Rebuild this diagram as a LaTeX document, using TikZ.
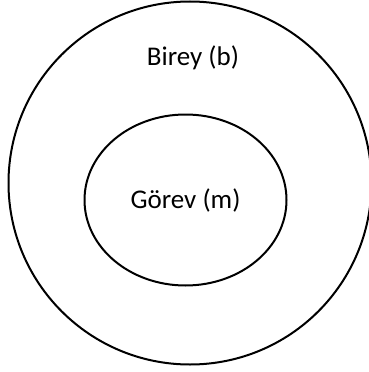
\documentclass[tikz,border=0pt]{standalone}
\usepackage{fontspec}
\setmainfont{Carlito}
\usepackage{tikz}
\usetikzlibrary{positioning, shapes.geometric}

\begin{document}
\begin{tikzpicture}[
    x=1pt, y=-1pt,
    ring/.style={circle, draw=black, line width=2pt,
                 minimum size=363pt, inner sep=0pt},
    core/.style={ellipse, draw=black, line width=2pt,
                 minimum width=202pt, minimum height=171pt, inner sep=0pt,
                 font=\fontsize{27}{31}\selectfont},
    lbl/.style={font=\fontsize{27}{31}\selectfont, inner sep=0pt}
]
    \useasboundingbox (0,0) rectangle (369,372);

    % Outer and inner regions
    \node[ring] (birey) at (190,183) {};
    \node[core] (gorev) at (185.5,200) {Görev (m)};

    \node[lbl] (bireylbl) at (193,58) {Birey (b)};
\end{tikzpicture}
\end{document}
